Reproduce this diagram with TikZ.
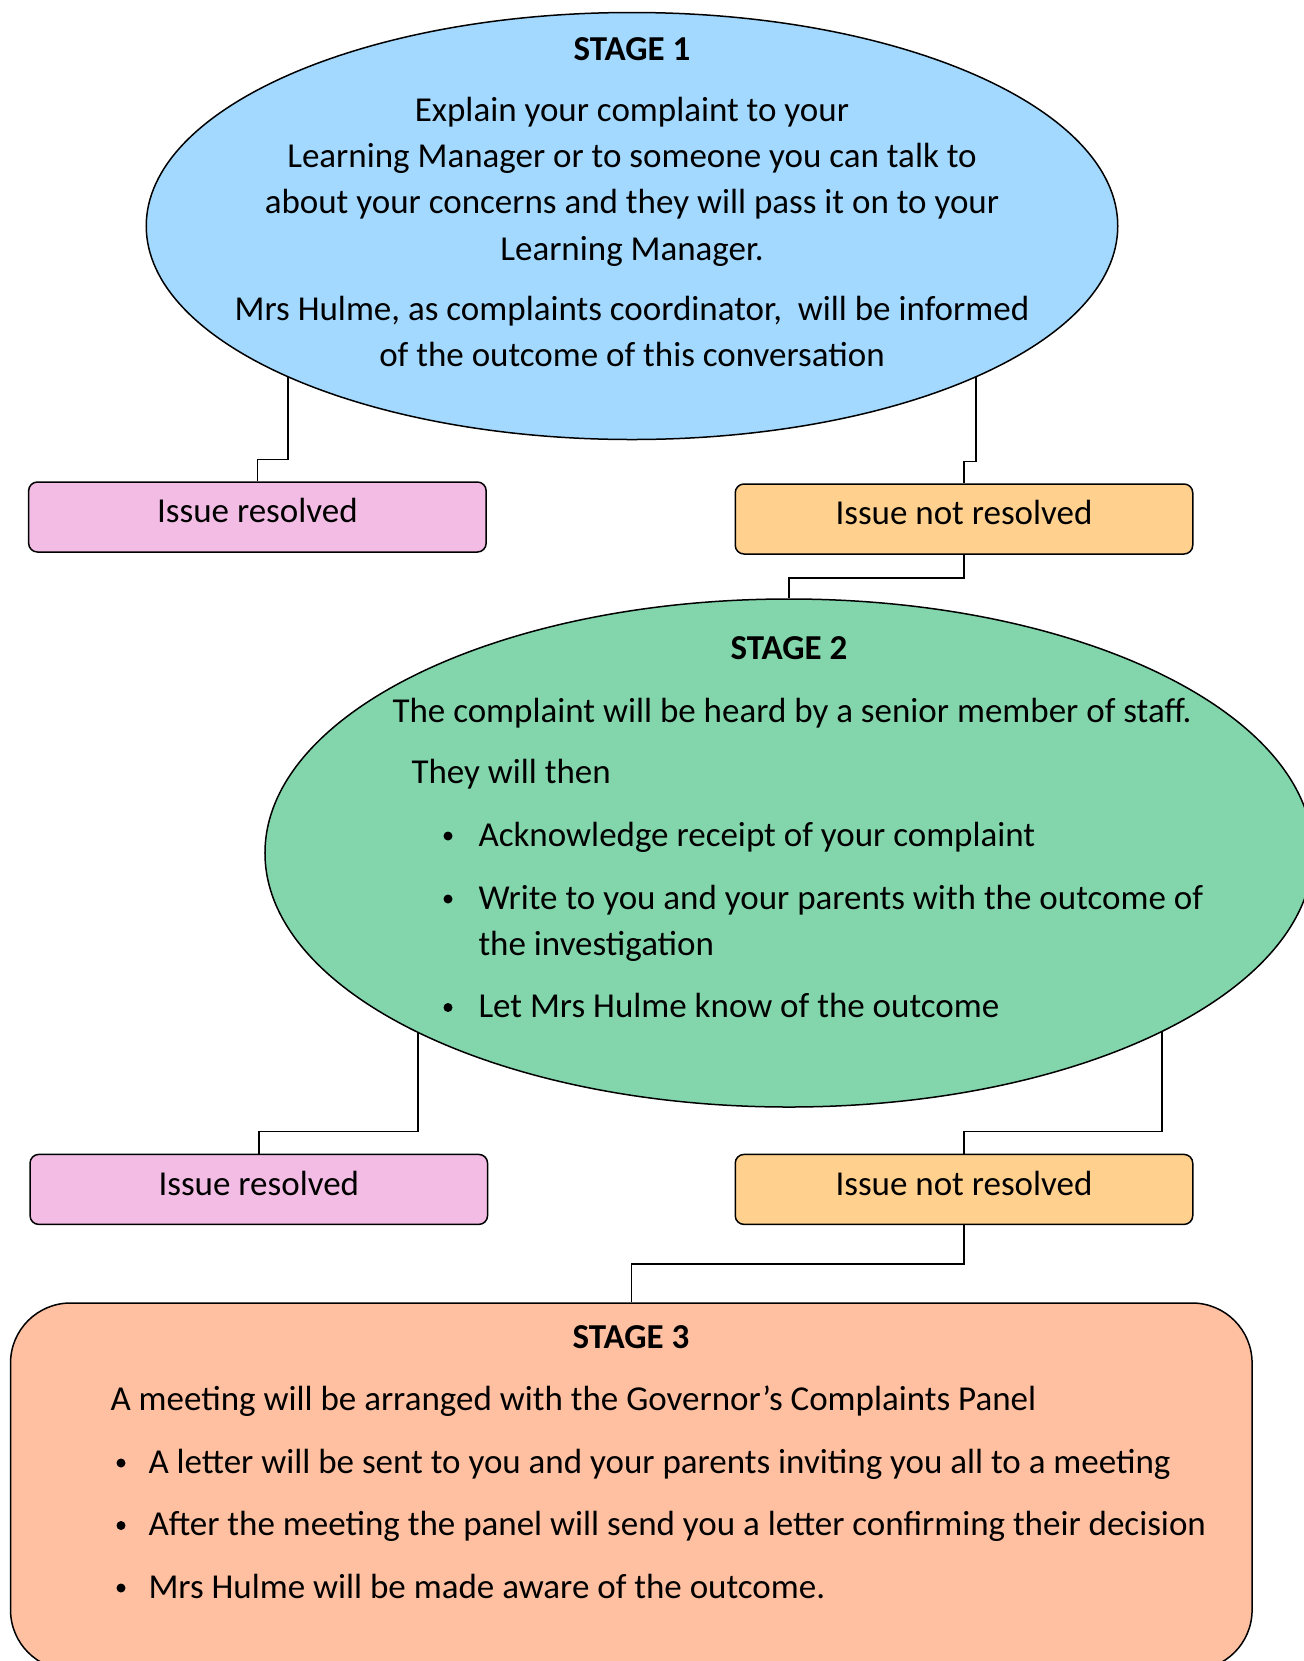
\documentclass[tikz,border=0pt]{standalone}
\usepackage{fontspec}
\setmainfont{Carlito}
\usetikzlibrary{shapes.geometric,calc}

\definecolor{stageone}{HTML}{A3D9FF}
\definecolor{stagetwo}{HTML}{83D6AC}
\definecolor{stagethree}{HTML}{FFC0A1}
\definecolor{resolved}{HTML}{F2BCE4}
\definecolor{notresolved}{HTML}{FFD08E}

\begin{document}
\begin{tikzpicture}[x=0.4pt,y=-0.4pt,
    stage/.style={ellipse,draw,line width=0.6pt,inner sep=0},
    outcome/.style={draw,rounded corners=3.5pt,line width=0.6pt,
        minimum width=183pt,minimum height=28pt,inner sep=0,text depth=5pt,
        font=\fontsize{14}{16}\selectfont},
    txt/.style={inner sep=0,font=\fontsize{14}{16}\selectfont},
    head/.style={txt,anchor=base,font=\fontsize{14}{16}\selectfont\bfseries},
    link/.style={line width=0.6pt}]
    \useasboundingbox (0,0) rectangle (1304,1661);

    \node[stage,fill=stageone,minimum width=388.6pt,minimum height=170.8pt] (e1) at (632,226) {};
    \node[stage,fill=stagetwo,minimum width=419.2pt,minimum height=203.2pt] (e2) at (789,853) {};
    \node[draw,fill=stagethree,line width=0.6pt,rounded corners=24pt,inner sep=0,
        minimum width=496.6pt,minimum height=146.8pt] (s3) at (631.3,1486.5) {};

    \node[outcome,fill=resolved] (r1) at (257.4,517) {Issue resolved};
    \node[outcome,fill=notresolved] (n1) at (964,519) {Issue not resolved};
    \node[outcome,fill=resolved] (r2) at (258.8,1189.4) {Issue resolved};
    \node[outcome,fill=notresolved] (n2) at (964,1189.4) {Issue not resolved};

    % connectors
    \draw[link] ($(e1.center)+(-344,151)$) |- ($(r1.north)+(0,-22)$) -- (r1.north);
    \draw[link] ($(e1.center)+(344,151)$) |- ($(n1.north)+(0,-22)$) -- (n1.north);
    \draw[link] (n1.south) -- ++(0,23) -| (e2.north);
    \draw[link] ($(e2.center)+(-371,179.4)$) |- ($(r2.north)+(0,-22)$) -- (r2.north);
    \draw[link] ($(e2.center)+(373,178.4)$) |- ($(n2.north)+(0,-22)$) -- (n2.north);
    \draw[link] (n2.south) -- ++(0,39) -| (s3.north);

    % stage 1
    \node[head] (h1) at (632,60) {STAGE 1};
    \foreach \yy/\lbl [count=\i] in {121/{Explain your complaint to your},
        167/{Learning Manager or to someone you can talk to},
        213/{about your concerns and they will pass it on to your},
        260/{Learning Manager.},
        320/{Mrs Hulme, as complaints coordinator,\ \ will be informed},
        366/{of the outcome of this conversation}} {
        \node[txt,anchor=base] (a\i) at (632,\yy) {\lbl};
    }

    % stage 2
    \node[head] (h2) at (789,659) {STAGE 2};
    \node[txt,anchor=base west] (b0) at (392,722) {The complaint will be heard by a senior member of staff.};
    \node[txt,anchor=base west] (b1) at (411,783) {They will then};
    \foreach \yy/\lbl [count=\i] in {846/{Acknowledge receipt of your complaint},
        909/{Write to you and your parents with the outcome of},
        1017.5/{Let Mrs Hulme know of the outcome}} {
        \fill (448,\yy-10) circle (4.5);
        \node[txt,anchor=base west] (c\i) at (478,\yy) {\lbl};
    }
    \node[txt,anchor=base west] (c4) at (478,955) {the investigation};

    % stage 3
    \node[head] (h3) at (631,1348) {STAGE 3};
    \node[txt,anchor=base west] (d0) at (110,1410) {A meeting will be arranged with the Governor’s Complaints Panel};
    \foreach \yy/\lbl [count=\i] in {1473/{A letter will be sent to you and your parents inviting you all to a meeting},
        1535.5/{After the meeting the panel will send you a letter confirming their decision},
        1598/{Mrs Hulme will be made aware of the outcome.}} {
        \fill (121,\yy-10) circle (4.5);
        \node[txt,anchor=base west] (d\i) at (148,\yy) {\lbl};
    }

\end{tikzpicture}
\end{document}
